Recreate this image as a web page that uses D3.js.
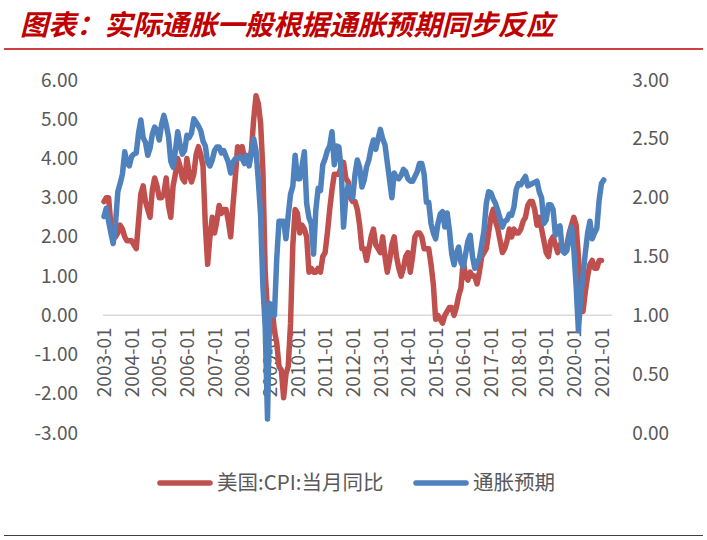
<!DOCTYPE html>
<html><head><meta charset="utf-8">
<script src="https://cdn.jsdelivr.net/npm/d3@7/dist/d3.min.js"></script>
<style>body{margin:0;background:#fff}svg{display:block}</style>
</head><body><svg id="c" width="707" height="540"></svg>
<script>
// ---- data ----
const titleText = "图表：实际通胀一般根据通胀预期同步反应";
const seriesNames = ["美国:CPI:当月同比", "通胀预期"];
const firstMonth = new Date(2003, 0, 1);
const afterLastMonth = new Date(2021, 5, 1); // category axis runs 2003-01 .. 2021-05
const xTickLabels = ["2003-01","2004-01","2005-01","2006-01","2007-01","2008-01","2009-01","2010-01","2011-01","2012-01","2013-01","2014-01","2015-01","2016-01","2017-01","2018-01","2019-01","2020-01","2021-01"];
const leftTicks = [-3, -2, -1, 0, 1, 2, 3, 4, 5, 6];
const rightTicks = [0, 0.5, 1, 1.5, 2, 2.5, 3];

// 美国:CPI:当月同比 (%), monthly from 2003-01 (left axis)
const cpiYoY = [
  2.9, 3.0, 3.0, 2.3, 2.1, 2.0, 2.1, 2.3, 2.2, 2.0, 1.9, 1.9,
  1.9, 1.8, 1.7, 2.4, 3.1, 3.3, 2.9, 2.7, 2.5, 3.2, 3.5, 3.3,
  3.0, 3.0, 3.1, 3.5, 2.8, 2.5, 3.3, 3.6, 4.0, 3.8, 3.5, 3.4,
  4.0, 3.6, 3.4, 3.6, 4.1, 4.3, 4.1, 3.8, 2.3, 1.3, 2.0, 2.5,
  2.1, 2.4, 2.8, 2.6, 2.7, 2.7, 2.4, 2.0, 2.8, 3.5, 4.3, 4.1,
  4.3, 4.0, 4.0, 3.9, 4.2, 5.0, 5.6, 5.4, 4.9, 3.7, 1.1, 0.1,
  0.0, 0.2, -0.4, -0.7, -1.3, -1.4, -2.1, -1.5, -1.3, -0.2, 1.8, 2.7,
  2.6, 2.1, 2.3, 2.2, 2.0, 1.1, 1.2, 1.1, 1.1, 1.2, 1.1, 1.5,
  1.6, 2.1, 2.7, 3.2, 3.6, 3.6, 3.6, 3.8, 3.9, 3.5, 3.4, 3.0,
  2.9, 2.9, 2.7, 2.3, 1.7, 1.7, 1.4, 1.7, 2.0, 2.2, 1.8, 1.7,
  1.6, 2.0, 1.5, 1.1, 1.4, 1.8, 2.0, 1.5, 1.2, 1.0, 1.2, 1.5,
  1.6, 1.1, 1.5, 2.0, 2.1, 2.1, 2.0, 1.7, 1.7, 1.7, 1.3, 0.8,
  -0.1, 0.0, -0.1, -0.2, 0.0, 0.1, 0.2, 0.2, 0.0, 0.2, 0.5, 0.7,
  1.4, 1.0, 0.9, 1.1, 1.0, 1.0, 0.8, 1.1, 1.5, 1.6, 1.7, 2.1,
  2.5, 2.7, 2.4, 2.2, 1.9, 1.6, 1.7, 1.9, 2.2, 2.0, 2.2, 2.1,
  2.1, 2.2, 2.4, 2.5, 2.8, 2.9, 2.9, 2.7, 2.3, 2.5, 2.2, 1.9,
  1.6, 1.5, 1.9, 2.0, 1.8, 1.6, 1.8, 1.7, 1.7, 1.8, 2.1, 2.3,
  2.5, 2.3, 1.5, 0.3, 0.1, 0.6, 1.0, 1.3, 1.4, 1.2, 1.2, 1.4,
  1.4
];

// 通胀预期 (%), monthly from 2003-01 (right axis)
const inflationExpect = [
  1.84, 1.91, 1.80, 1.70, 1.61, 1.78, 2.05, 2.12, 2.20, 2.39, 2.29, 2.27,
  2.35, 2.37, 2.38, 2.55, 2.66, 2.51, 2.47, 2.36, 2.42, 2.54, 2.60, 2.57,
  2.49, 2.62, 2.70, 2.62, 2.52, 2.31, 2.26, 2.40, 2.56, 2.45, 2.37, 2.40,
  2.53, 2.51, 2.55, 2.67, 2.64, 2.61, 2.57, 2.48, 2.44, 2.30, 2.27, 2.32,
  2.40, 2.43, 2.43, 2.38, 2.40, 2.35, 2.30, 2.21, 2.30, 2.33, 2.33, 2.35,
  2.33, 2.29, 2.36, 2.27, 2.38, 2.50, 2.40, 2.15, 1.85, 1.25, 0.90, 0.12,
  1.10, 1.05, 1.00, 1.48, 1.80, 1.80, 1.80, 1.65, 1.85, 2.03, 2.10, 2.36,
  2.16, 2.16, 2.27, 2.39, 1.95, 1.83, 1.78, 1.52, 1.90, 2.08, 2.06, 2.28,
  2.33, 2.40, 2.44, 2.56, 2.28, 2.44, 2.43, 2.24, 1.75, 2.00, 2.10, 2.04,
  2.00, 2.20, 2.32, 2.26, 2.09, 2.15, 2.26, 2.32, 2.42, 2.49, 2.41, 2.50,
  2.58, 2.50, 2.45, 2.30, 2.15, 2.00, 2.21, 2.17, 2.16, 2.19, 2.24, 2.22,
  2.16, 2.14, 2.14, 2.18, 2.22, 2.29, 2.29, 2.20, 1.96, 1.96, 1.78, 1.70,
  1.65, 1.78, 1.86, 1.88, 1.75, 1.87, 1.72, 1.52, 1.43, 1.53, 1.58, 1.45,
  1.41, 1.52, 1.63, 1.68, 1.50, 1.40, 1.45, 1.48, 1.60, 1.72, 1.95, 2.05,
  2.04, 1.99, 1.95, 1.89, 1.82, 1.75, 1.80, 1.81, 1.86, 1.85, 1.92, 2.07,
  2.12, 2.11, 2.15, 2.18, 2.10, 2.11, 2.12, 2.13, 2.14, 2.05, 2.00, 1.78,
  1.81, 1.94, 1.94, 1.90, 1.68, 1.75, 1.76, 1.55, 1.53, 1.55, 1.68, 1.75,
  1.56, 1.25, 0.87, 1.15, 1.35, 1.53, 1.70, 1.80, 1.65, 1.70, 1.74, 1.98,
  2.12, 2.15
];

// ---- drawing ----
const svg = d3.select("#c");
const fmtMonth = d3.timeFormat("%Y-%m");
const months = d3.timeMonth.range(firstMonth, afterLastMonth).map(fmtMonth);

const plotL = 104, step = 2.303;
const x = d3.scalePoint().domain(months).range([plotL, plotL + step * (months.length - 1)]);
const yL = d3.scaleLinear().domain([-3, 6]).range([433, 80]);
const yR = d3.scaleLinear().domain([0, 3]).range([433, 80]);

const textCol = "#595959";
const tickFont = "'Noto Sans CJK SC','Noto Sans',sans-serif";
const fmt2 = v => v.toFixed(2);

// title
svg.append("text")
  .attr("x", 20).attr("y", 35)
  .attr("textLength", 534).attr("lengthAdjust", "spacingAndGlyphs")
  .style("font-family", "'Noto Sans CJK SC',sans-serif")
  .style("font-size", "28px").style("font-weight", 700).style("font-style", "italic")
  .style("fill", "#C00000")
  .text(titleText);
svg.append("line").attr("x1", 4).attr("x2", 703).attr("y1", 49).attr("y2", 49)
  .attr("stroke", "#C00000").attr("stroke-width", 1.5);
svg.append("line").attr("x1", 4).attr("x2", 703).attr("y1", 535.5).attr("y2", 535.5)
  .attr("stroke", "#404040").attr("stroke-width", 1);

// left axis
const gL = svg.append("g").attr("transform", `translate(${plotL},0)`)
  .call(d3.axisLeft(yL).tickValues(leftTicks).tickFormat(fmt2).tickSize(0).tickPadding(26));
// right axis
const plotR = x(months[months.length - 1]) + 1.5;
const gR = svg.append("g").attr("transform", `translate(${plotR},0)`)
  .call(d3.axisRight(yR).tickValues(rightTicks).tickFormat(fmt2).tickSize(0).tickPadding(20));
[gL, gR].forEach(g => {
  g.select(".domain").remove();
  g.selectAll("text").style("font-family", tickFont).style("font-size", "19px").style("fill", textCol);
});

// zero line (category axis)
svg.append("line").attr("x1", plotL - 1).attr("x2", plotR).attr("y1", yL(0)).attr("y2", yL(0))
  .attr("stroke", "#D9D9D9").attr("stroke-width", 1.5);

// x axis labels
const gX = svg.append("g").attr("transform", `translate(0,${yL(0)})`)
  .call(d3.axisBottom(x).tickValues(xTickLabels).tickSize(0));
gX.select(".domain").remove();
gX.selectAll("text")
  .attr("transform", "rotate(-90)")
  .attr("text-anchor", "end")
  .attr("x", -12).attr("y", 0).attr("dy", "0.35em")
  .style("font-family", tickFont).style("font-size", "19px").style("fill", textCol);

// lines
const lineL = d3.line().x((d, i) => x(months[i])).y(d => yL(d));
const lineR = d3.line().x((d, i) => x(months[i])).y(d => yR(d));
svg.append("path").datum(cpiYoY).attr("d", lineL)
  .attr("fill", "none").attr("stroke", "#C0504D").attr("stroke-width", 5.5)
  .attr("stroke-linejoin", "round").attr("stroke-linecap", "round");
svg.append("path").datum(inflationExpect).attr("d", lineR)
  .attr("fill", "none").attr("stroke", "#4F81BD").attr("stroke-width", 5.5)
  .attr("stroke-linejoin", "round").attr("stroke-linecap", "round");

// legend
const legend = [
  {name: seriesNames[0], color: "#C0504D", x: 158},
  {name: seriesNames[1], color: "#4F81BD", x: 414}
];
const lg = svg.append("g");
legend.forEach(l => {
  lg.append("line").attr("x1", l.x + 2).attr("x2", l.x + 52).attr("y1", 483).attr("y2", 483)
    .attr("stroke", l.color).attr("stroke-width", 5.5).attr("stroke-linecap", "round");
  lg.append("text").attr("x", l.x + 59).attr("y", 483).attr("dy", "0.35em")
    .style("font-family", tickFont).style("font-size", "20.5px").style("fill", textCol)
    .text(l.name);
});
</script></body></html>
